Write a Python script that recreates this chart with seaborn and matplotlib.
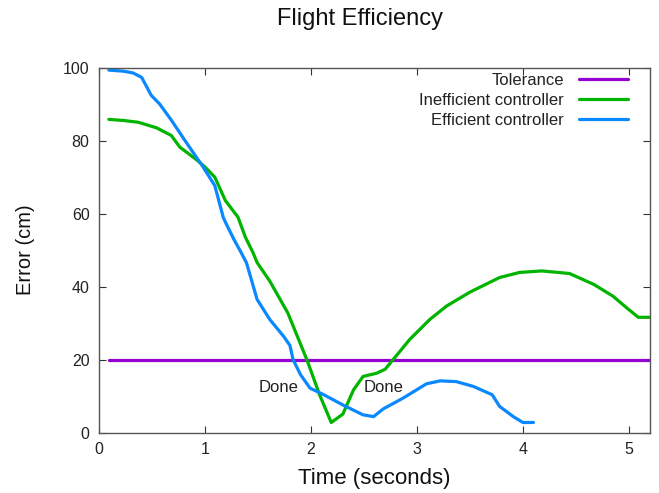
import matplotlib
matplotlib.use("Agg")
import matplotlib.pyplot as plt
import seaborn as sns
import pandas as pd

# Efficient controller
eff_t = [0.09, 0.23, 0.32, 0.40, 0.49, 0.57, 0.68, 0.83, 0.97, 1.09, 1.12, 1.17, 1.20, 1.27, 1.34,
         1.39, 1.49, 1.61, 1.74, 1.80, 1.83, 1.90, 1.99, 2.12, 2.30, 2.49, 2.59, 2.68, 2.87,
         3.09, 3.22, 3.37, 3.53, 3.71, 3.78, 3.91, 4.00, 4.10]
eff_e = [99.3, 99.0, 98.5, 97.3, 92.4, 90.0, 85.6, 79.1, 73.2, 67.7, 64.5, 59.0, 57.1, 53.0, 49.3,
         46.5, 36.5, 31.0, 26.4, 23.9, 20.0, 15.9, 12.2, 10.4, 7.6, 4.9, 4.4, 6.5, 9.5,
         13.4, 14.2, 14.0, 12.7, 10.4, 7.2, 4.4, 2.8, 2.8]

# Inefficient controller
ineff_t = [0.09, 0.23, 0.37, 0.54, 0.68, 0.76, 0.83, 0.92, 1.00, 1.09, 1.12, 1.19, 1.25, 1.31, 1.38,
           1.45, 1.49, 1.61, 1.78, 1.96, 2.08, 2.19, 2.30, 2.40, 2.49, 2.62, 2.70, 2.78, 2.93,
           3.12, 3.28, 3.50, 3.78, 3.97, 4.18, 4.44, 4.67, 4.85, 4.98, 5.09, 5.20]
ineff_e = [85.8, 85.5, 85.0, 83.5, 81.4, 78.2, 76.7, 74.7, 72.7, 70.0, 68.1, 63.6, 61.3, 59.0, 53.5,
           49.4, 46.6, 41.5, 32.8, 20.0, 10.4, 2.8, 5.1, 11.7, 15.4, 16.3, 17.4, 20.2, 25.5,
           31.0, 34.7, 38.5, 42.5, 43.9, 44.3, 43.6, 40.6, 37.4, 34.2, 31.6, 31.6]

# Tolerance
tol_t = [0.09, 5.20]
tol_e = [20, 20]

done_t = [1.69, 2.68]
done_e = [12.5, 12.5]
done_labels = ["Done", "Done"]

sns.set_style("ticks")
plt.rcParams['font.family'] = ['Liberation Sans', 'DejaVu Sans']

fig = plt.figure(figsize=(6.59, 4.93), dpi=100)
ax = fig.add_axes([0.1507, 0.1223, 0.8356, 0.7407])

lw = 2.3
sns.lineplot(x=tol_t, y=tol_e, ax=ax, color="#9400d3", lw=lw, label="Tolerance")
sns.lineplot(x=ineff_t, y=ineff_e, ax=ax, color="#00b400", lw=lw, label="Inefficient controller")
sns.lineplot(x=eff_t, y=eff_e, ax=ax, color="#0a88ff", lw=lw, label="Efficient controller")

for t, e, s in zip(done_t, done_e, done_labels):
    ax.text(t, e, s, ha="center", va="center", fontsize=12, color="#222222")

ax.set_xlim(0, 5.2)
ax.set_ylim(0, 100)
ax.set_xticks([0, 1, 2, 3, 4, 5])
ax.set_yticks([0, 20, 40, 60, 80, 100])
ax.tick_params(direction="in", top=True, right=True, labelsize=11.5, length=5, colors="#333333",
               labelcolor="#222222", pad=7)
for sp in ax.spines.values():
    sp.set_visible(True)
    sp.set_color("#555555")
    sp.set_linewidth(1.0)

ax.set_xlabel("Time (seconds)", fontsize=16, color="#111111", va="center")
ax.set_ylabel("Error (cm)", fontsize=14.5, color="#111111", va="center")
ax.xaxis.set_label_coords(0.5, -0.125)
ax.yaxis.set_label_coords(-0.134, 0.5)
fig.text(0.547, 1 - 19 / 493, "Flight Efficiency", ha="center", va="center", fontsize=17, color="#111111")

leg = ax.legend(loc="upper right", bbox_to_anchor=(0.987, 1.026), frameon=False, markerfirst=False,
                fontsize=12, handlelength=2.95, labelspacing=0.3, handletextpad=0.9)
for t in leg.get_texts():
    t.set_color("#222222")

fig.savefig("out.png", dpi=100)
